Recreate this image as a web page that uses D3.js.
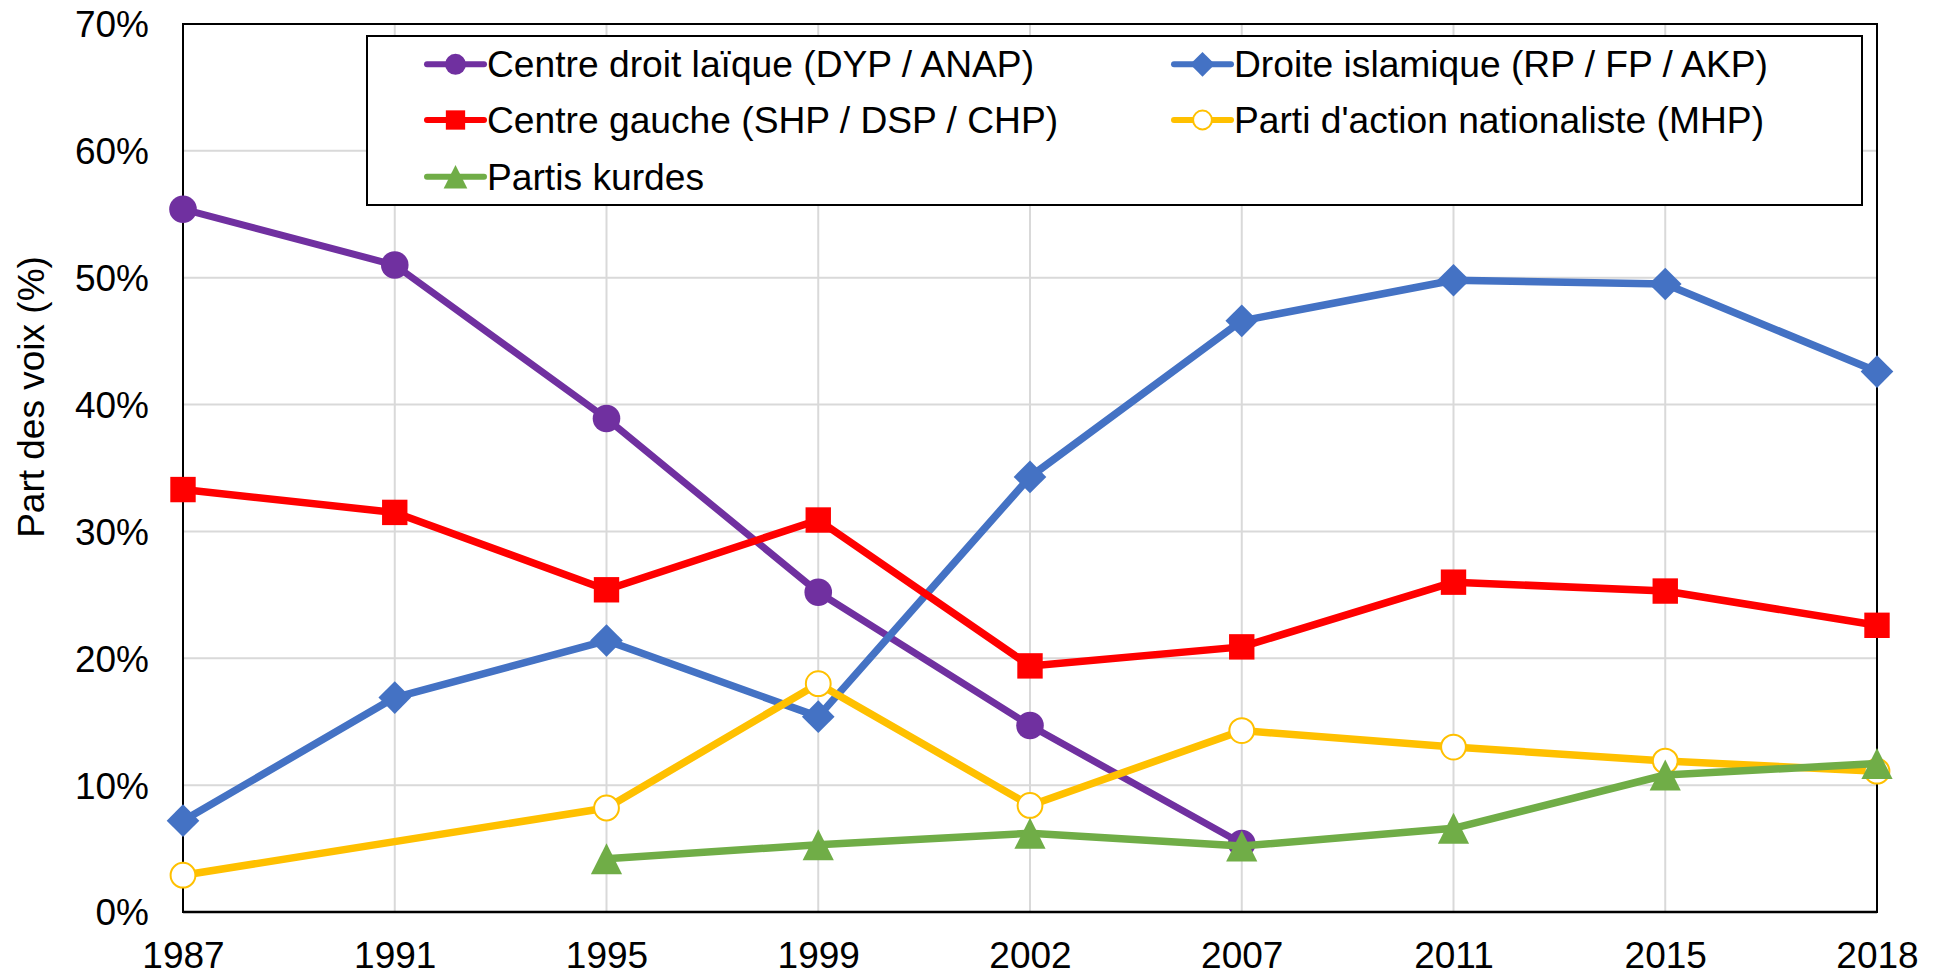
<!DOCTYPE html>
<html>
<head>
<meta charset="utf-8">
<script src="https://cdn.jsdelivr.net/npm/d3@7"></script>
<style>
  html, body { margin: 0; padding: 0; background: #ffffff; }
  svg { display: block; }
  text { font-family: "Liberation Sans", Arial, sans-serif; fill: #000; }
</style>
</head>
<body>
<svg id="chart" width="1943" height="976"></svg>
<script>
// ---------- Data ----------
const categories = ["1987", "1991", "1995", "1999", "2002", "2007", "2011", "2015", "2018"];
const centreDroit = [55.4, 51.0, 38.9, 25.2, 14.7, 5.4, null, null, null];
const droiteIslamique = [7.2, 16.9, 21.4, 15.4, 34.3, 46.6, 49.8, 49.5, 42.6];
const centreGauche = [33.3, 31.5, 25.4, 30.9, 19.4, 20.9, 26.0, 25.3, 22.6];
const mhp = [2.9, null, 8.2, 18.0, 8.4, 14.3, 13.0, 11.9, 11.1];
const kurdes = [null, null, 4.2, 5.3, 6.2, 5.2, 6.6, 10.8, 11.7];
const yTicks = [0, 10, 20, 30, 40, 50, 60, 70];
const seriesNames = [
  "Centre droit laïque (DYP / ANAP)",
  "Droite islamique (RP / FP / AKP)",
  "Centre gauche (SHP / DSP / CHP)",
  "Parti d'action nationaliste (MHP)",
  "Partis kurdes"
];
const yTitle = "Part des voix (%)";

// ---------- Styles ----------
const series = [
  { name: seriesNames[0], values: centreDroit, color: "#7030A0", marker: "circle", width: 7 },
  { name: seriesNames[1], values: droiteIslamique, color: "#4472C4", marker: "diamond", width: 7.5 },
  { name: seriesNames[2], values: centreGauche, color: "#FF0000", marker: "square", width: 7.5 },
  { name: seriesNames[3], values: mhp, color: "#FFC000", marker: "open", width: 7.5 },
  { name: seriesNames[4], values: kurdes, color: "#70AD47", marker: "triangle", width: 7.5 }
];

const FONT = 37;
const plot = { left: 183, right: 1877, top: 24, bottom: 912 };
const svg = d3.select("#chart");

const x = d3.scalePoint().domain(categories).range([plot.left, plot.right]).padding(0);
const y = d3.scaleLinear().domain([0, 70]).range([plot.bottom, plot.top]);

// ---------- Gridlines ----------
const grid = svg.append("g");
grid.selectAll("line.h").data(yTicks.slice(1, -1)).enter().append("line")
  .attr("x1", plot.left).attr("x2", plot.right)
  .attr("y1", d => y(d)).attr("y2", d => y(d))
  .attr("stroke", "#d9d9d9").attr("stroke-width", 2);
grid.selectAll("line.v").data(categories.slice(1, -1)).enter().append("line")
  .attr("y1", plot.top).attr("y2", plot.bottom)
  .attr("x1", d => x(d)).attr("x2", d => x(d))
  .attr("stroke", "#d9d9d9").attr("stroke-width", 2);

// ---------- Plot border ----------
svg.append("rect")
  .attr("x", plot.left).attr("y", plot.top)
  .attr("width", plot.right - plot.left).attr("height", plot.bottom - plot.top)
  .attr("fill", "none").attr("stroke", "#000").attr("stroke-width", 2);
svg.append("line")
  .attr("x1", plot.left).attr("x2", plot.right)
  .attr("y1", plot.bottom).attr("y2", plot.bottom)
  .attr("stroke", "#000").attr("stroke-width", 2.6);

// ---------- Axes ----------
const yAxis = svg.append("g").attr("transform", `translate(${plot.left},0)`)
  .call(d3.axisLeft(y).tickValues(yTicks).tickSize(0).tickPadding(34).tickFormat(d => d + "%"));
yAxis.select(".domain").remove();
yAxis.selectAll("text").attr("font-size", FONT).attr("dy", "0.35em")
  .style("font-family", "'Liberation Sans', Arial, sans-serif");

const xAxis = svg.append("g").attr("transform", `translate(0,${plot.bottom})`)
  .call(d3.axisBottom(x).tickSize(0).tickPadding(30));
xAxis.select(".domain").remove();
xAxis.selectAll("text").attr("font-size", FONT)
  .style("font-family", "'Liberation Sans', Arial, sans-serif");

svg.append("text")
  .attr("transform", "translate(31.5,397) rotate(-90)")
  .attr("text-anchor", "middle").attr("dy", "0.35em")
  .attr("font-size", FONT).text(yTitle);

// ---------- Markers ----------
function markerPath(type, s) {
  if (type === "circle") { const r = 13.8 * s; return d3.arc()({innerRadius: 0, outerRadius: r, startAngle: 0, endAngle: 2 * Math.PI}); }
  if (type === "open") { const r = 12.4 * s; return d3.arc()({innerRadius: 0, outerRadius: r, startAngle: 0, endAngle: 2 * Math.PI}); }
  if (type === "square") { const h = 12.7 * s; return `M${-h},${-h}H${h}V${h}H${-h}Z`; }
  if (type === "diamond") { const h = 16.3 * s; return `M0,${-h}L${h},0L0,${h}L${-h},0Z`; }
  if (type === "triangle") { const w = 15.6 * s, h = 15.5 * s; return `M0,${-h}L${w},${h}L${-w},${h}Z`; }
}
function drawMarker(g, type, color, s) {
  const p = g.append("path").attr("d", markerPath(type, s));
  if (type === "open") p.attr("fill", "#fff").attr("stroke", color).attr("stroke-width", 2);
  else p.attr("fill", color);
}

// ---------- Series ----------
const line = d3.line().x(d => x(d.cat)).y(d => y(d.v));
series.forEach(sr => {
  const pts = categories.map((c, i) => ({ cat: c, v: sr.values[i] })).filter(d => d.v !== null);
  const g = svg.append("g");
  g.append("path").datum(pts).attr("d", line)
    .attr("fill", "none").attr("stroke", sr.color).attr("stroke-width", sr.width)
    .attr("stroke-linejoin", "round").attr("stroke-linecap", "round");
  pts.forEach(d => {
    const mg = g.append("g").attr("transform", `translate(${x(d.cat)},${y(d.v)})`);
    drawMarker(mg, sr.marker, sr.color, 1);
  });
});

// ---------- Legend ----------
const legend = svg.append("g");
legend.append("rect").attr("x", 367).attr("y", 36).attr("width", 1862 - 367).attr("height", 205 - 36)
  .attr("fill", "#fff").attr("stroke", "#000").attr("stroke-width", 2);
const colX = [427, 1174];
const rowY = [64.3, 120, 176.7];
series.forEach((sr, i) => {
  const cx = colX[i % 2], cy = rowY[Math.floor(i / 2)];
  const g = legend.append("g").attr("transform", `translate(${cx},${cy})`);
  g.append("line").attr("x1", 0).attr("x2", 57).attr("y1", 0).attr("y2", 0)
    .attr("stroke", sr.color).attr("stroke-width", 6).attr("stroke-linecap", "round");
  const mg = g.append("g").attr("transform", "translate(28.5,0)");
  drawMarker(mg, sr.marker, sr.color, 0.76);
  g.append("text").attr("x", 60).attr("dy", "0.35em").attr("font-size", 37.2).text(sr.name);
});
</script>
</body>
</html>
